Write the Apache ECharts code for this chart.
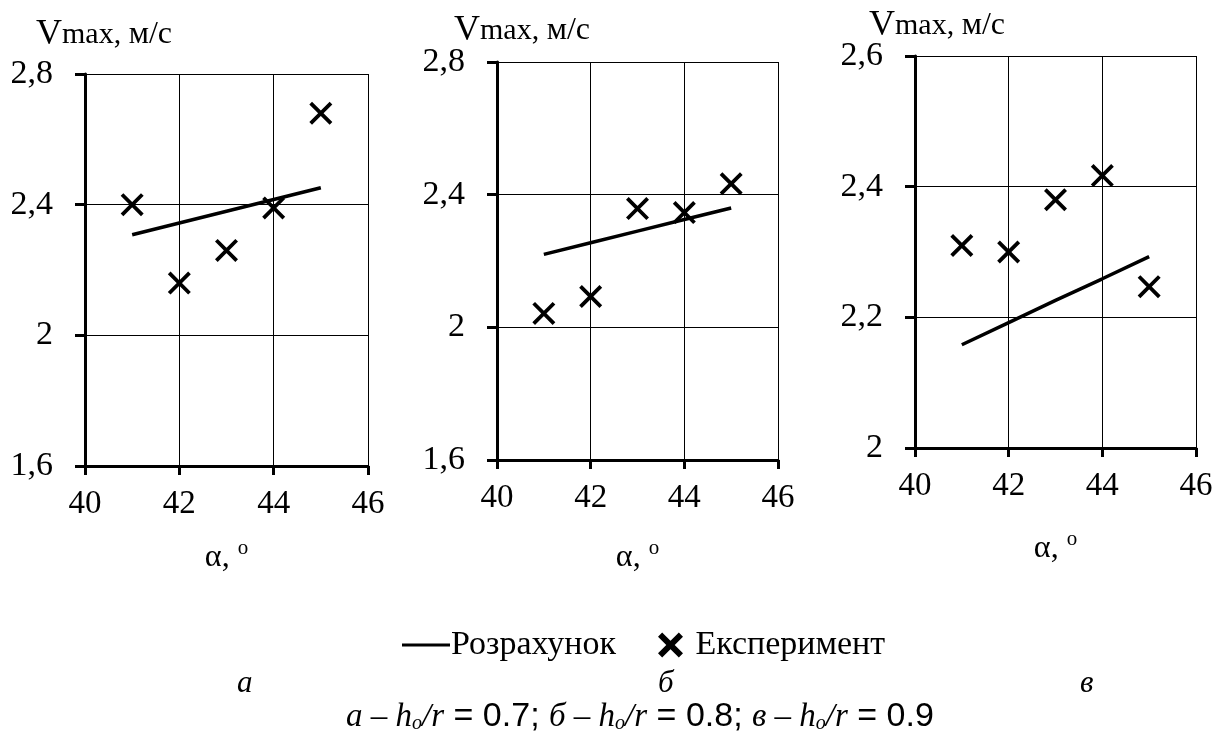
<!DOCTYPE html>
<html>
<head>
<meta charset="utf-8">
<script src="https://cdn.jsdelivr.net/npm/echarts@6/dist/echarts.min.js"></script>
<style>
html,body{margin:0;padding:0;background:#fff;}
#chart{width:1227px;height:742px;}
</style>
</head>
<body>
<div id="chart"></div>
<script>
// ---- data ----
const xValues = [41, 42, 43, 44, 45];
const calcA = [2.308, 2.344, 2.380, 2.416, 2.452];
const expA  = [2.40, 2.16, 2.26, 2.39, 2.68];
const calcB = [2.220, 2.255, 2.290, 2.325, 2.360];
const expB  = [2.042, 2.093, 2.358, 2.346, 2.433];
const calcC = [2.158, 2.192, 2.226, 2.259, 2.293];
const expC  = [2.310, 2.300, 2.380, 2.417, 2.247];

const xTickLabels = ['40', '42', '44', '46'];
const yTickLabelsA = ['1,6', '2', '2,4', '2,8'];
const yTickLabelsB = ['1,6', '2', '2,4', '2,8'];
const yTickLabelsC = ['2', '2,2', '2,4', '2,6'];

const seriesNames = ['Розрахунок', 'Експеримент'];
const panelLetters = ['а', 'б', 'в'];

// ---- layout ----
const panels = [
  {grid: {left: 85, top: 74, width: 283, height: 392}, yMin: 1.6, yMax: 2.8, yStep: 0.4, yLabels: yTickLabelsA, calc: calcA, exp: expA, nameGap: 72, title: {left: 31, top: 12}, letterX: 245},
  {grid: {left: 497, top: 62, width: 281, height: 398}, yMin: 1.6, yMax: 2.8, yStep: 0.4, yLabels: yTickLabelsB, calc: calcB, exp: expB, nameGap: 78, title: {left: 449, top: 8}, letterX: 666},
  {grid: {left: 915, top: 56, width: 281, height: 392}, yMin: 2.0, yMax: 2.6, yStep: 0.2, yLabels: yTickLabelsC, calc: calcC, exp: expC, nameGap: 81, title: {left: 864, top: 3}, letterX: 1088}
];

const FONT = 'Liberation Serif, Times New Roman, serif';
const xPath = 'path://M0,1.4L1.4,0L12,10.6L10.6,12Z M10.6,0L12,1.4L1.4,12L0,10.6Z';
const xPathBold = 'path://M0,2L2,0L12,10L10,12Z M10,0L12,2L2,12L0,10Z';

const grids = [], xAxes = [], yAxes = [], series = [], titles = [], graphics = [];
panels.forEach((p, i) => {
  grids.push(p.grid);
  xAxes.push({
    type: 'value', gridIndex: i, min: 40, max: 46, interval: 2,
    name: '{a|α,}{o|o}', nameLocation: 'middle', nameGap: p.nameGap,
    nameTextStyle: {rich: {
      a: {fontFamily: FONT, fontSize: 32, color: '#000'},
      o: {fontFamily: FONT, fontSize: 21, color: '#000', verticalAlign: 'top', padding: [0, 0, 18, 8]}
    }},
    axisLine: {show: true, onZero: false, lineStyle: {color: '#000', width: 3}},
    axisTick: {show: true, inside: false, length: 9, lineStyle: {color: '#000', width: 3}},
    axisLabel: {margin: 22, fontFamily: FONT, fontSize: 33, color: '#000',
      formatter: v => xTickLabels[Math.round((v - 40) / 2)]},
    splitLine: {show: true, lineStyle: {color: '#000', width: 1}}
  });
  yAxes.push({
    type: 'value', gridIndex: i, min: p.yMin, max: p.yMax, interval: p.yStep,
    axisLine: {show: true, onZero: false, lineStyle: {color: '#000', width: 3}},
    axisTick: {show: true, inside: false, length: 10, lineStyle: {color: '#000', width: 3}},
    axisLabel: {margin: 32, fontFamily: FONT, fontSize: 34, color: '#000',
      formatter: v => p.yLabels[Math.round((v - p.yMin) / p.yStep)]},
    splitLine: {show: true, lineStyle: {color: '#000', width: 1}}
  });
  series.push({
    name: seriesNames[0], type: 'line', xAxisIndex: i, yAxisIndex: i,
    data: xValues.map((x, k) => [x, p.calc[k]]),
    symbol: 'none', color: '#000', lineStyle: {color: '#000', width: 3.5}, z: 3
  });
  series.push({
    name: seriesNames[1], type: 'scatter', xAxisIndex: i, yAxisIndex: i,
    data: xValues.map((x, k) => [x, p.exp[k]]),
    symbol: xPath, symbolSize: 23, color: '#000', itemStyle: {color: '#000', opacity: 1}, z: 4
  });
  titles.push({
    text: '{v|V}{m|max, }{u|м/с}', left: p.title.left, top: p.title.top,
    textStyle: {fontWeight: 'normal', rich: {
      v: {fontFamily: FONT, fontSize: 36, fontWeight: 'normal', color: '#000'},
      m: {fontFamily: FONT, fontSize: 30, fontWeight: 'normal', color: '#000'},
      u: {fontFamily: FONT, fontSize: 32, fontWeight: 'normal', color: '#000'}
    }}
  });
  graphics.push({
    type: 'text', left: p.letterX - 8, top: 668,
    style: {text: panelLetters[i], font: 'italic 31px ' + FONT, fill: '#000'}
  });
});

const capRich = {
  i: {fontFamily: FONT, fontStyle: 'italic', fontSize: 33, color: '#000'},
  s: {fontFamily: FONT, fontStyle: 'italic', fontSize: 20, color: '#000', verticalAlign: 'bottom', padding: [13, 0, 0, 0]},
  n: {fontFamily: 'Liberation Sans Narrow, Liberation Sans, Arial, sans-serif', fontSize: 34, color: '#000'}
};
graphics.push({
  type: 'text', x: 640, y: 717,
  style: {
    text: '{i|а – h}{s|о}{i|/r}{n| = 0.7; }{i|б – h}{s|о}{i|/r}{n| = 0.8; }{i|в – h}{s|о}{i|/r}{n| = 0.9}',
    rich: capRich, align: 'center', verticalAlign: 'middle'
  }
});

const chart = echarts.init(document.getElementById('chart'), null, {renderer: 'canvas'});
chart.setOption({
  backgroundColor: '#fff',
  animation: false,
  title: titles,
  grid: grids,
  xAxis: xAxes,
  yAxis: yAxes,
  legend: {
    left: 397, top: 623, itemWidth: 48, itemHeight: 25, itemGap: 42,
    itemStyle: {borderWidth: 0},
    textStyle: {fontFamily: FONT, fontSize: 34, color: '#000', padding: [0, 0, 0, -4]},
    data: [
      {name: seriesNames[0], icon: 'path://M0,0H48V3H0Z'},
      {name: seriesNames[1], icon: xPathBold}
    ]
  },
  series: series,
  graphic: graphics
});
</script>
</body>
</html>
